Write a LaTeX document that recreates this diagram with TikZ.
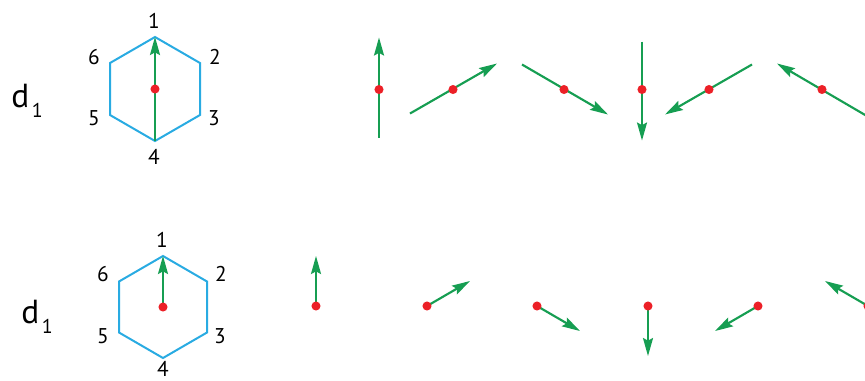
\documentclass[tikz,border=0pt]{standalone}
\usepackage{fontspec}
\setmainfont{PT Sans}
\usetikzlibrary{arrows.meta, calc, positioning}
\definecolor{hexblue}{RGB}{41,171,226}
\definecolor{vecgreen}{RGB}{22,158,82}
\definecolor{dotred}{RGB}{236,32,39}

\tikzset{
    hexline/.style={draw=hexblue, line width=1.5pt, line join=miter},
    vec/.style={->, draw=vecgreen, line width=1.6pt},
    num/.style={inner sep=0pt, font=\fontsize{16}{18}\selectfont},
    dname/.style={inner sep=0pt, anchor=base west, font=\fontsize{25}{27}\selectfont},
}
\newcommand{\reddot}[1]{\fill[dotred] (#1) circle[radius=3.4pt];}

\begin{document}
\begin{tikzpicture}[x=0.75pt, y=-0.75pt, >={Stealth[length=13.5pt, width=7.5pt, inset=2pt]}]
    \useasboundingbox (0,0) rectangle (865,380);
    \clip (0,0) rectangle (865,380);

    % upper row
    \node[dname] (dtop) at (11,107) {d\kern2pt\raisebox{-8pt}{\fontsize{15}{15}\selectfont 1}};
    \coordinate (h1c) at (155,89);
    \coordinate (h1v1) at (155,37);
    \coordinate (h1v2) at (200,63);
    \coordinate (h1v3) at (200,115);
    \coordinate (h1v4) at (155,141);
    \coordinate (h1v5) at (110,115);
    \coordinate (h1v6) at (110,63);
    \draw[hexline] (h1v1) -- (h1v2) -- (h1v3) -- (h1v4) -- (h1v5) -- (h1v6) -- cycle;
    \node[num] (h1n1) at (154,21) {1};
    \node[num] (h1n2) at (215,57) {2};
    \node[num] (h1n3) at (214,118) {3};
    \node[num] (h1n4) at (154,157) {4};
    \node[num] (h1n5) at (94,118) {5};
    \node[num] (h1n6) at (94,57) {6};
    \draw[vec] (h1v4) -- (h1v1);
    \reddot{h1c}

    \coordinate (t1) at (379,89.5);
    \coordinate (t2) at (453,89.5);
    \coordinate (t3) at (564,89.5);
    \coordinate (t4) at (642,89.5);
    \coordinate (t5) at (709,89.5);
    \coordinate (t6) at (822,89.5);
    \draw[vec] ($(t1)+(0,48)$) -- ($(t1)+(0,-52)$);
    \draw[vec] ($(t2)+(-43,24)$) -- ($(t2)+(44,-26)$);
    \draw[vec] ($(t3)+(-42,-25)$) -- ($(t3)+(44,25)$);
    \draw[vec] ($(t4)+(0,-48)$) -- ($(t4)+(0,51)$);
    \draw[vec] ($(t5)+(43,-25)$) -- ($(t5)+(-44,25)$);
    \draw[vec] ($(t6)+(44,26)$) -- ($(t6)+(-45,-26)$);
    \foreach \p in {t1,t2,t3,t4,t5,t6} {\reddot{\p}}

    % lower row
    \node[dname] (dbot) at (21,323) {d\kern2pt\raisebox{-8pt}{\fontsize{15}{15}\selectfont 1}};
    \coordinate (h2c) at (163,307);
    \coordinate (h2v1) at (163,256);
    \coordinate (h2v2) at (207,281.5);
    \coordinate (h2v3) at (207,332.5);
    \coordinate (h2v4) at (163,358);
    \coordinate (h2v5) at (119,332.5);
    \coordinate (h2v6) at (119,281.5);
    \draw[hexline] (h2v1) -- (h2v2) -- (h2v3) -- (h2v4) -- (h2v5) -- (h2v6) -- cycle;
    \node[num] (h2n1) at (162,240) {1};
    \node[num] (h2n2) at (221,274) {2};
    \node[num] (h2n3) at (220,336) {3};
    \node[num] (h2n4) at (163,369) {4};
    \node[num] (h2n5) at (103,336) {5};
    \node[num] (h2n6) at (103,274) {6};
    \draw[vec] (h2c) -- (h2v1);
    \reddot{h2c}

    \coordinate (b1) at (316,306);
    \coordinate (b2) at (427,306);
    \coordinate (b3) at (537,306);
    \coordinate (b4) at (648,306);
    \coordinate (b5) at (758,306);
    \coordinate (b6) at (868,306);
    \draw[vec] (b1) -- ($(b1)+(0,-50)$);
    \draw[vec] (b2) -- ($(b2)+(43,-25)$);
    \draw[vec] (b3) -- ($(b3)+(43,25)$);
    \draw[vec] (b4) -- ($(b4)+(0,50)$);
    \draw[vec] (b5) -- ($(b5)+(-43,25)$);
    \draw[vec] (b6) -- ($(b6)+(-43,-25)$);
    \foreach \p in {b1,b2,b3,b4,b5,b6} {\reddot{\p}}
\end{tikzpicture}
\end{document}
